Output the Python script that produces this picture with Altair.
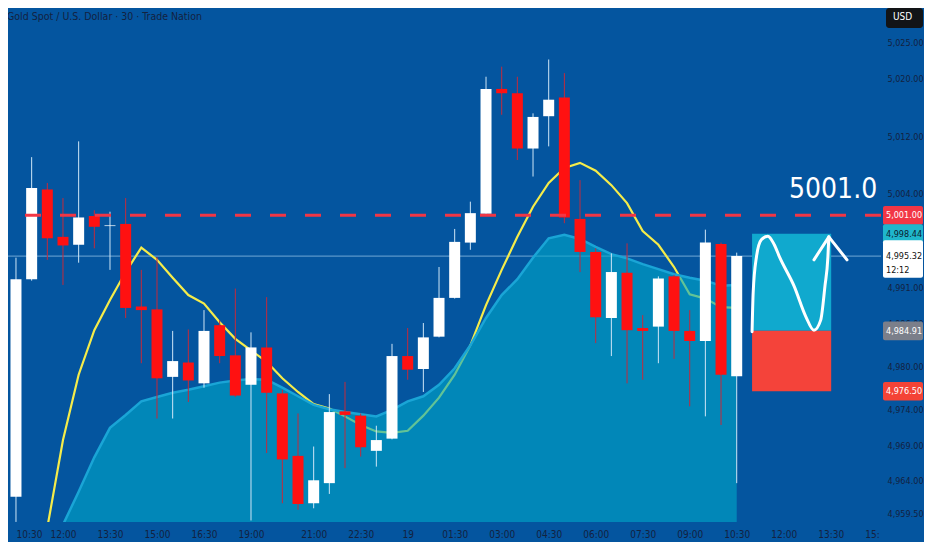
import json
import altair as alt
import pandas as pd

# ---------------- data ----------------
title_text = "Gold Spot / U.S. Dollar · 30 · Trade Nation"

idx = list(range(47))
opens = [4961.8, 4992.1, 5004.6, 4998.0, 4996.9, 5000.9, 4999.5, 4999.8, 4988.3, 4987.9,
         4978.5, 4980.5, 4977.6, 4985.7, 4981.5, 4977.4, 4982.6, 4976.2, 4967.5, 4960.9,
         4963.7, 4973.7, 4973.1, 4968.2, 4969.9, 4981.4, 4979.6, 4984.1, 4989.5, 4997.2,
         5001.2, 5018.6, 5018.0, 5010.3, 5014.8, 5017.4, 5000.5, 4995.9, 4986.7, 4993.0,
         4985.3, 4985.5, 4992.5, 4984.9, 4983.5, 4997.0, 4978.6]
highs = [4995.1, 5009.1, 5005.5, 5003.4, 5011.3, 5001.7, 5001.5, 5003.4, 4993.4, 4995.2,
         4984.9, 4985.1, 4987.8, 4986.4, 4990.8, 4984.7, 4989.6, 4976.7, 4973.4, 4968.8,
         4976.1, 4977.8, 4973.4, 4971.7, 4983.1, 4985.3, 4986.0, 4993.8, 4999.1, 5002.9,
         5020.3, 5021.7, 5020.3, 5015.2, 5022.7, 5020.8, 5005.9, 4996.4, 4995.7, 4997.1,
         4987.1, 4992.5, 4992.7, 4987.8, 4999.0, 4997.2, 4995.8]
lows = [4958.3, 4991.9, 4994.8, 4991.3, 4994.4, 4996.4, 4993.4, 4986.7, 4980.4, 4972.7,
        4972.7, 4975.0, 4977.0, 4980.4, 4975.7, 4958.5, 4967.9, 4960.9, 4960.0, 4960.2,
        4962.2, 4965.8, 4967.4, 4966.0, 4969.8, 4978.1, 4976.4, 4984.0, 4989.4, 4996.2,
        5001.1, 5015.0, 5008.7, 5006.4, 5010.6, 4999.9, 4993.1, 4983.2, 4981.4, 4977.6,
        4978.1, 4980.4, 4981.0, 4974.4, 4973.0, 4971.8, 4963.7]
closes = [4992.1, 5004.8, 4997.8, 4996.8, 5000.7, 4999.4, 4999.6, 4988.1, 4987.8, 4978.3,
          4980.7, 4978.0, 4984.9, 4981.4, 4975.9, 4982.6, 4976.3, 4967.0, 4960.8, 4964.1,
          4973.6, 4973.2, 4968.7, 4969.7, 4981.4, 4979.5, 4984.0, 4989.5, 4997.3, 5001.3,
          5018.6, 5018.0, 5010.3, 5014.7, 5017.1, 5000.7, 4995.9, 4986.8, 4993.1, 4985.0,
          4984.9, 4992.2, 4984.9, 4983.5, 4997.2, 4978.8, 4995.32]

ma_idx = list(range(2, 47))
ma_vals = [4957.5, 4969.7, 4978.8, 4985.0, 4989.2, 4993.1, 4996.5, 4994.8, 4992.3, 4989.9,
           4988.7, 4986.1, 4983.8, 4982.2, 4980.6, 4978.3, 4976.4, 4974.7, 4974.1, 4973.0,
           4971.8, 4970.9, 4970.7, 4971.0, 4973.1, 4975.6, 4978.8, 4982.9, 4988.5, 4993.4,
           4998.0, 5002.2, 5005.5, 5007.6, 5008.3, 5007.2, 5005.2, 5002.7, 4998.8, 4996.9,
           4993.8, 4990.0, 4989.4, 4988.2, 4988.1]

band_idx = list(range(3, 47))
band_vals = [4957.9, 4962.5, 4967.3, 4971.4, 4973.2, 4975.1, 4975.7, 4976.3, 4976.7, 4977.2,
             4977.7, 4978.0, 4978.2, 4978.1, 4977.0, 4975.8, 4974.6, 4974.0, 4973.6, 4973.3,
             4973.0, 4973.9, 4975.1, 4975.8, 4977.4, 4979.7, 4982.9, 4986.7, 4989.9, 4992.1,
             4995.1, 4997.8, 4998.3, 4997.7, 4996.6, 4995.6, 4995.0, 4994.2, 4993.5, 4992.8,
             4992.3, 4991.9, 4991.2, 4991.3]

x_tick_pos = [0, 3, 6, 9, 12, 15, 19, 22, 25, 28, 31, 34, 37, 40, 43, 46, 49, 52, 54.64]
x_tick_lbl = ["10:30", "12:00", "13:30", "15:00", "16:30", "19:00", "21:00", "22:30", "19",
              "01:30", "03:00", "04:30", "06:00", "07:30", "09:00", "10:30", "12:00", "13:30", "15:"]
y_ticks = [5025, 5020, 5012, 5004, 4991, 4986, 4980, 4974, 4969, 4964, 4959.5]

level_price = 5001.0
level_text = "5001.0"
last_price = 4995.32
last_time = "12:12"

tag_prices = [5001.00, 4998.44, 4984.91, 4976.50]
tag_bg = ["#F23645", "#1FB6CC", "#7B7F8A", "#F44336"]
tag_fg = ["#FFFFFF", "#0B1A30", "#FFFFFF", "#FFFFFF"]

box_x = [46.98, 52.03]
box_target, box_entry, box_stop = 4998.44, 4984.91, 4976.50

wave_x = [46.98, 47.05, 47.26, 47.57, 47.99, 48.40, 48.73, 49.67, 50.41, 50.93, 51.36, 51.63, 51.82, 51.88]
wave_p = [4984.8, 4990.2, 4995.2, 4997.6, 4998.1, 4996.9, 4995.2, 4991.1, 4986.9, 4985.0, 4986.4, 4991.1, 4995.2, 4998.0]
arrow_x = [50.93, 51.88, 53.04]
arrow_p = [4994.8, 4998.0, 4994.8]

# ---------------- styling ----------------
BG = "#04559F"
TXT = "#13223F"
FONT = "Liberation Sans Narrow, DejaVu Sans Condensed, Roboto Condensed, Roboto, sans-serif"
W, H = 873, 514

xs = alt.Scale(domain=[-0.19, 54.89], nice=False, zero=False)
ys = alt.Scale(domain=[4958.29, 5029.87], nice=False, zero=False)

candles = pd.DataFrame({"i": idx, "open": opens, "high": highs, "low": lows, "close": closes})
ma = pd.DataFrame({"i": ma_idx, "v": ma_vals})
band = pd.DataFrame({"i": band_idx, "v": band_vals})

label_expr = "{}[indexof({}, datum.value)]".format(json.dumps(x_tick_lbl), json.dumps(x_tick_pos))


def X(f):
    return alt.X(f, scale=xs, title=None)


def Y(f):
    return alt.Y(f, scale=ys, title=None)


# invisible layer that carries both axes
axes_layer = alt.Chart(candles).mark_rule(opacity=0).encode(
    x=alt.X("i:Q", scale=xs, title=None,
            axis=alt.Axis(values=x_tick_pos, labelExpr=label_expr, orient="bottom", grid=False,
                          domain=False, ticks=False, tickSize=0, labelPadding=7,
                          labelOverlap=False, labelFlush=False, labelFontSize=10,
                          labelAlign={"condition": {"test": "datum.value == 0", "value": "left"},
                                      "value": "center"})),
    y=alt.Y("low:Q", scale=ys, title=None,
            axis=alt.Axis(values=y_ticks, format=",.2f", orient="right", grid=False, domain=False,
                          ticks=False, tickSize=0, labelPadding=6, labelOverlap=False,
                          labelFlush=False, labelAlign="left", labelFontSize=9)),
)

price_line = alt.Chart(pd.DataFrame({"p": [last_price]})).mark_rule(
    color="#8CBDE3", strokeWidth=1, opacity=0.8
).encode(y=Y("p:Q"))

ma_line = alt.Chart(ma).mark_line(color="#F5EC4A", strokeWidth=2.2, clip=True).encode(
    x=X("i:Q"), y=Y("v:Q")
)

band_area = alt.Chart(band).mark_area(color="#00A8CA", opacity=0.6, clip=True).encode(
    x=X("i:Q"), y=Y("v:Q"), y2=alt.datum(4950)
)
band_edge = alt.Chart(band).mark_line(color="#1AA5D6", strokeWidth=2.5, clip=True).encode(
    x=X("i:Q"), y=Y("v:Q")
)

wicks = alt.Chart(candles).transform_calculate(
    wc="datum.close >= datum.open ? '#CFE6F7' : '#C42A3C'"
).mark_rule(strokeWidth=1, clip=True).encode(
    x=X("i:Q"), y=Y("low:Q"), y2="high:Q", color=alt.Color("wc:N", scale=None),
)

bodies = alt.Chart(candles).transform_calculate(
    bc="datum.close >= datum.open ? '#FFFFFF' : '#FF1111'"
).mark_bar(size=11, clip=True).encode(
    x=X("i:Q"), y=Y("open:Q"), y2="close:Q", color=alt.Color("bc:N", scale=None),
)

level_line = alt.Chart(pd.DataFrame({"p": [level_price]})).mark_rule(
    color="#F23645", strokeWidth=3, strokeDash=[16, 19]
).encode(y=Y("p:Q"))

box = alt.Chart(pd.DataFrame({
    "x0": [box_x[0], box_x[0]], "x1": [box_x[1], box_x[1]],
    "top": [box_target, box_entry], "bot": [box_entry, box_stop],
    "c": ["#10A9CE", "#F4433A"],
})).mark_rect().encode(
    x=X("x0:Q"), x2="x1:Q", y=Y("top:Q"), y2="bot:Q", color=alt.Color("c:N", scale=None),
)

wave = alt.Chart(pd.DataFrame({"x": wave_x, "p": wave_p, "o": list(range(len(wave_x)))})).mark_line(
    color="white", strokeWidth=3, interpolate="monotone", strokeCap="round"
).encode(x=X("x:Q"), y=Y("p:Q"), order="o:Q")

arrow = alt.Chart(pd.DataFrame({"x": arrow_x, "p": arrow_p, "o": [0, 1, 2]})).mark_line(
    color="white", strokeWidth=3, strokeCap="round", strokeJoin="round"
).encode(x=X("x:Q"), y=Y("p:Q"), order="o:Q")

level_label = alt.Chart(pd.DataFrame({"t": [level_text], "x": [49.34], "p": [5004.5]})).mark_text(
    align="left", baseline="middle", font=FONT, fontSize=28, color="white"
).encode(x=X("x:Q"), y=Y("p:Q"), text="t:N")

title = alt.Chart(pd.DataFrame({"t": [title_text]})).mark_text(
    align="left", baseline="middle", font=FONT, fontSize=10.5, color=TXT
).encode(x=alt.value(-1), y=alt.value(9), text="t:N")

tags_df = pd.DataFrame({"p": tag_prices, "bg": tag_bg, "fg": tag_fg})
tag_rects = alt.Chart(tags_df).transform_calculate(
    top="datum.p + 1.3", bot="datum.p - 1.3"
).mark_rect(cornerRadius=2).encode(
    x=alt.value(875), x2=alt.value(915), y=Y("top:Q"), y2="bot:Q",
    color=alt.Color("bg:N", scale=None),
)
tag_texts = alt.Chart(tags_df).transform_calculate(
    lbl="format(datum.p, ',.2f')"
).mark_text(align="left", baseline="middle", font=FONT, fontSize=9).encode(
    x=alt.value(878), y=Y("p:Q"), text="lbl:N", color=alt.Color("fg:N", scale=None),
)

cur_df = pd.DataFrame({"p": [last_price], "t": [last_time]})
cur_rect = alt.Chart(cur_df).transform_calculate(
    top="datum.p + 2.2", bot="datum.p - 3.0"
).mark_rect(color="white", cornerRadius=2).encode(
    x=alt.value(875), x2=alt.value(915), y=Y("top:Q"), y2="bot:Q",
)
cur_text1 = alt.Chart(cur_df).transform_calculate(lbl="format(datum.p, ',.2f')").mark_text(
    align="left", baseline="middle", font=FONT, fontSize=9, color="#111111"
).encode(x=alt.value(878), y=Y("p:Q"), text="lbl:N")
cur_text2 = alt.Chart(cur_df).transform_calculate(q="datum.p - 2.0").mark_text(
    align="left", baseline="middle", font=FONT, fontSize=9, color="#111111"
).encode(x=alt.value(878), y=Y("q:Q"), text="t:N")

usd_box = alt.Chart(pd.DataFrame({"t": ["USD"]})).mark_rect(color="#121417", cornerRadius=3).encode(
    x=alt.value(878), x2=alt.value(915), y=alt.value(0), y2=alt.value(20)
)
usd_text = alt.Chart(pd.DataFrame({"t": ["USD"]})).mark_text(
    align="left", baseline="middle", font=FONT, fontSize=10, color="white"
).encode(x=alt.value(885), y=alt.value(9), text="t:N")

chart = alt.layer(
    axes_layer, price_line, ma_line, band_area, band_edge, wicks, bodies, level_line, box, wave, arrow,
    level_label, title, tag_rects, tag_texts, cur_rect, cur_text1, cur_text2, usd_box, usd_text,
).properties(
    width=W, height=H, background=BG,
    padding={"left": 0, "top": 0, "right": 43, "bottom": 20},
    autosize=alt.AutoSizeParams(type="none"),
).configure_view(strokeWidth=0).configure_axis(
    labelFont=FONT, labelColor=TXT
)

chart.save("out.html", embed_options={"renderer": "svg", "actions": False})
